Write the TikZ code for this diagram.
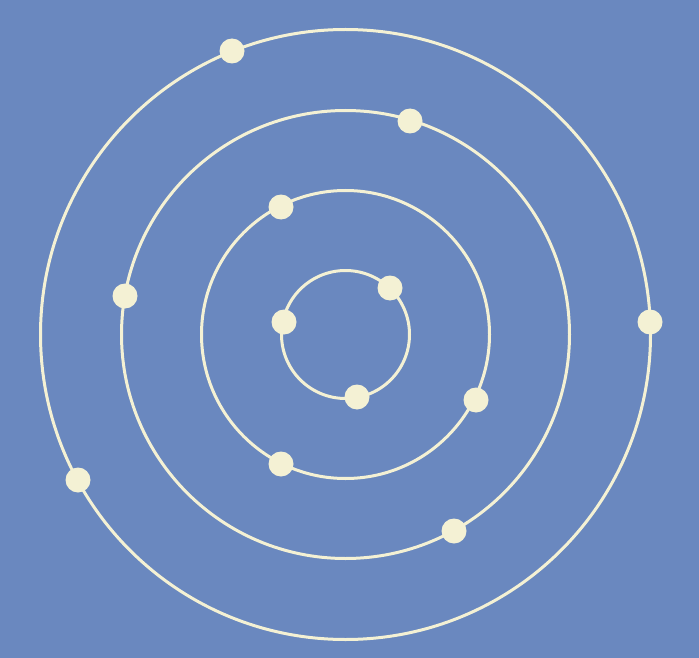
\documentclass[tikz,border=0pt]{standalone}
\definecolor{bg}{HTML}{6A88BF}
\definecolor{cream}{HTML}{F4F1D4}
\tikzset{
  orbit/.style={draw=cream, line width=3pt},
  electron/.style={circle, fill=cream, minimum size=25pt, inner sep=0pt}
}
\begin{document}
\begin{tikzpicture}[x=1pt,y=-1pt]
\fill[bg] (0,0) rectangle (699,658);
\useasboundingbox (0,0) rectangle (699,658);
\coordinate (c) at (345.5,334.5);
\draw[orbit] (c) circle (64);
\draw[orbit] (c) circle (144);
\draw[orbit] (c) circle (224);
\draw[orbit] (c) circle (305);
% inner
\node[electron] (e1) at (390,288) {};
\node[electron] (e2) at (284,322) {};
\node[electron] (e3) at (357,397) {};
% second
\node[electron] (e4) at (281,207) {};
\node[electron] (e5) at (476,400) {};
\node[electron] (e6) at (281,464) {};
% third
\node[electron] (e7) at (410,121) {};
\node[electron] (e8) at (125,296) {};
\node[electron] (e9) at (454,531) {};
% outer
\node[electron] (e10) at (232,51) {};
\node[electron] (e11) at (650,322) {};
\node[electron] (e12) at (78,480) {};
\end{tikzpicture}
\end{document}
